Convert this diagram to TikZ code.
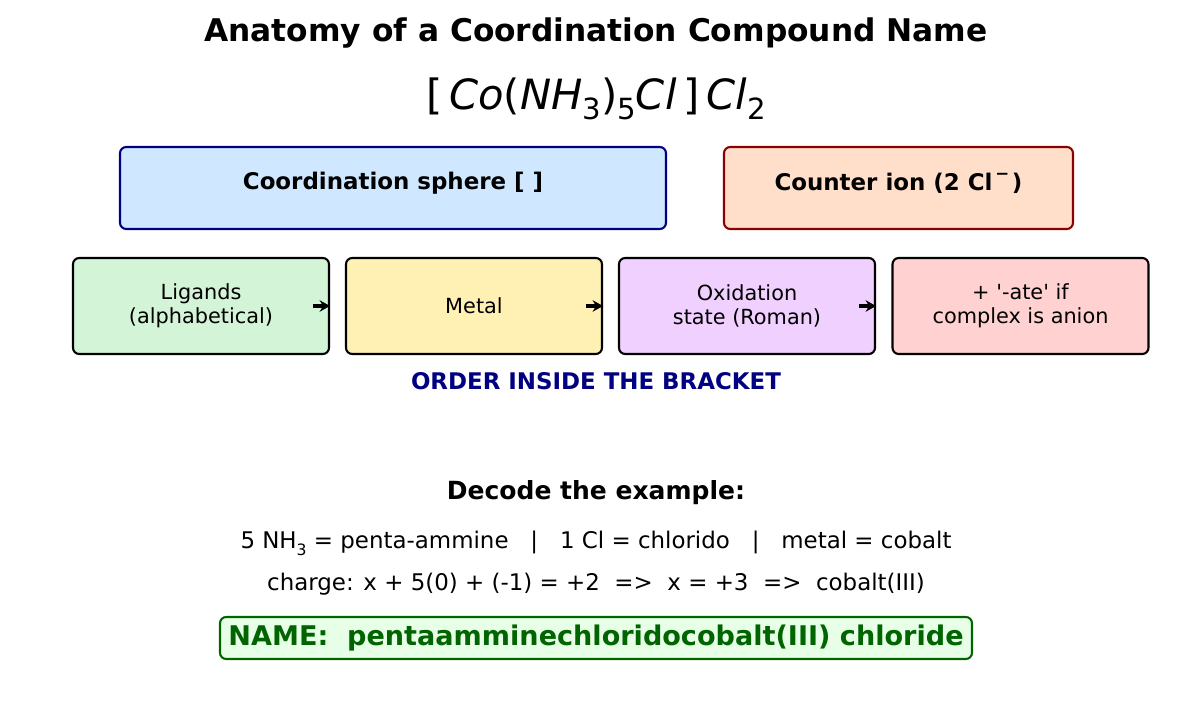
\documentclass[tikz,border=0pt]{standalone}
\usepackage{fontspec}
\setmainfont{DejaVu Sans}[Ligatures=TeXOff]
\usetikzlibrary{arrows.meta}
\definecolor{blueF}{HTML}{CFE8FF}
\definecolor{navyC}{HTML}{000080}
\definecolor{peachF}{HTML}{FFDFCA}
\definecolor{redC}{HTML}{8B0000}
\definecolor{greenF}{HTML}{D4F4D7}
\definecolor{yellowF}{HTML}{FFF0B4}
\definecolor{purpleF}{HTML}{F0D0FE}
\definecolor{pinkF}{HTML}{FFD1D1}
\definecolor{nameF}{HTML}{E6FFE6}
\definecolor{greenC}{HTML}{006400}
\newcommand{\fs}[1]{\fontsize{#1}{#1}\selectfont}
\newcommand{\sub}[1]{\raisebox{-0.25em}{\fontsize{14}{14}\selectfont #1}}
\begin{document}
\begin{tikzpicture}[x=0.48pt,y=-0.48pt,
  topbox/.style={draw, line width=1pt, rounded corners=3pt, minimum width=#1*0.48pt, minimum height=82*0.48pt, inner sep=0pt},
  stepbox/.style={draw=black, line width=1pt, rounded corners=3pt, minimum width=256*0.48pt, minimum height=96*0.48pt, inner sep=0pt, align=center, font=\fontsize{10}{11.6}\selectfont},
  flow/.style={-{Stealth[length=5pt,width=5.5pt]}, line width=1.5pt}]
\useasboundingbox (0,0) rectangle (1192,723);
\node[font=\fs{15}\bfseries] (title) at (596,33) {Anatomy of a Coordination Compound Name};
\node[font=\fs{20}] (formula) at (596,99) {[\,\itshape Co\upshape(\itshape NH\upshape\sub{3})\sub{5}\itshape Cl\upshape\,]\,\itshape Cl\upshape\sub{2}};
\node[topbox=546, fill=blueF, draw=navyC] (cs) at (393,188) {};
\node[font=\fs{11}\bfseries] (cst) at (393,183) {Coordination sphere [ ]};
\node[topbox=349, fill=peachF, draw=redC] (ci) at (898.5,188) {};
\node[font=\fs{11}\bfseries] (cit) at (898.5,183) {Counter ion (2 Cl\raisebox{0.45em}{\fs{8}\,−\,})};
\node[stepbox, fill=greenF] (lig) at (201,306) {Ligands\\(alphabetical)};
\node[stepbox, fill=yellowF] (met) at (474,306) {Metal};
\node[stepbox, fill=purpleF] (ox) at (747,306) {Oxidation\\state (Roman)};
\node[stepbox, fill=pinkF] (ate) at (1020.5,306) {+ '-ate' if\\complex is anion};
\draw[flow] ([xshift=-8pt]lig.east) -- (lig.east);
\draw[flow] ([xshift=-8pt]met.east) -- (met.east);
\draw[flow] ([xshift=-8pt]ox.east) -- (ox.east);
\node[font=\fs{11}\bfseries, text=navyC] (order) at (596,381) {ORDER INSIDE THE BRACKET};
\node[font=\fs{12}\bfseries] (dec) at (596,493) {Decode the example:};
\node[font=\fs{11}] (l1) at (596,543) {5 NH\raisebox{-0.3em}{\fs{7.5}3} = penta-ammine \ \ | \ \ 1 Cl = chlorido \ \ | \ \ metal = cobalt};
\node[font=\fs{11}] (l2) at (596,584) {charge: x + 5(0) + (-1) = +2 \ => \ x = +3 \ => \ cobalt(III)};
\node[draw=greenC, fill=nameF, line width=1pt, rounded corners=3pt, minimum width=752*0.48pt, minimum height=42*0.48pt, inner sep=0pt, font=\fs{13}\bfseries, text=greenC] (name) at (596,638) {NAME: \ pentaamminechloridocobalt(III) chloride};
\end{tikzpicture}
\end{document}
